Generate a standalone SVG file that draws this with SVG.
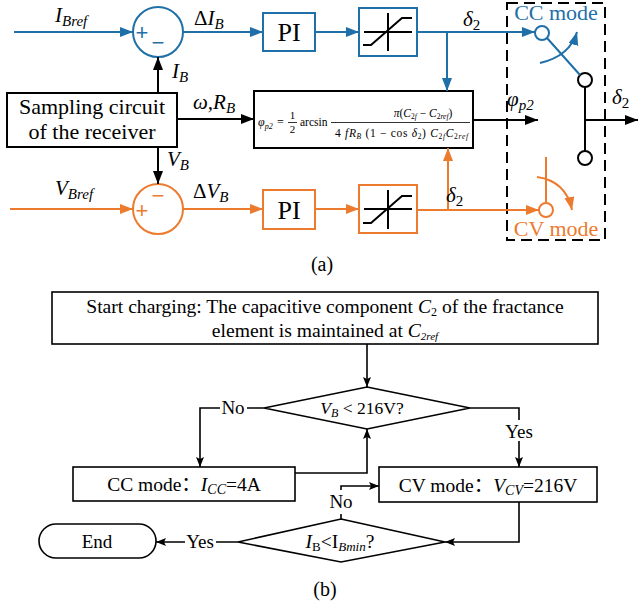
<svg xmlns="http://www.w3.org/2000/svg" width="639" height="607" viewBox="0 0 639 607" font-family="Liberation Serif, Noto Sans CJK SC, serif">
<defs>
<style>
.i{font-style:italic}
.bl{stroke:#1F6FA8;fill:none;stroke-width:2}
.or{stroke:#EC7B2F;fill:none;stroke-width:2}
.bk{stroke:#000;fill:none;stroke-width:2}
.bk2{stroke:#000;fill:none;stroke-width:1.6}
.blt{fill:#1F6FA8}
.ort{fill:#EC7B2F}
</style>
<marker id="ab" markerUnits="userSpaceOnUse" markerWidth="14" markerHeight="12" refX="13" refY="5" orient="auto"><path d="M0,0 L13,5 L0,10 z" fill="#1F6FA8"/></marker>
<marker id="ao" markerUnits="userSpaceOnUse" markerWidth="14" markerHeight="12" refX="13" refY="5" orient="auto"><path d="M0,0 L13,5 L0,10 z" fill="#EC7B2F"/></marker>
<marker id="ak" markerUnits="userSpaceOnUse" markerWidth="14" markerHeight="12" refX="13" refY="5" orient="auto"><path d="M0,0 L13,5 L0,10 z" fill="#000"/></marker>
<marker id="as" markerUnits="userSpaceOnUse" markerWidth="12" markerHeight="10" refX="10" refY="4" orient="auto"><path d="M0,0 L10,4 L0,8 L2,4 z" fill="#000"/></marker>
</defs>
<rect width="639" height="607" fill="#fff"/>

<!-- ===== Part (a) ===== -->
<g id="sum-i">
<circle cx="158" cy="32" r="25" class="bl"/>
<text x="142" y="40" class="blt" font-family="Liberation Sans, sans-serif" font-size="22" text-anchor="middle">+</text>
<text x="158" y="50" class="blt" font-family="Liberation Sans, sans-serif" font-size="22" text-anchor="middle">−</text>
</g>
<g id="pi-i">
<rect x="263" y="13" width="52" height="38" class="bl"/>
<text x="289" y="41" font-family="Liberation Serif, serif" font-size="26" text-anchor="middle">PI</text>
</g>
<g id="sat-i">
<rect x="359" y="8" width="58" height="48" class="bl"/>
<path d="M364,32 H412 M388,13 V51" class="bk" stroke-width="1.6"/>
<path d="M363,45 H371 L402,18 H412" class="bk"/>
</g>
<g id="sum-v">
<circle cx="158" cy="209" r="25" class="or"/>
<text x="142" y="218" class="ort" font-family="Liberation Sans, sans-serif" font-size="22" text-anchor="middle">+</text>
<text x="158" y="203" class="ort" font-family="Liberation Sans, sans-serif" font-size="22" text-anchor="middle">−</text>
</g>
<g id="pi-v">
<rect x="263" y="190" width="52" height="39" class="or"/>
<text x="289" y="219" font-family="Liberation Serif, serif" font-size="26" text-anchor="middle">PI</text>
</g>
<g id="sat-v">
<rect x="359" y="185" width="58" height="48" class="or"/>
<path d="M364,209 H412 M388,190 V229" class="bk" stroke-width="1.6"/>
<path d="M363,223 H371 L402,196 H412" class="bk"/>
</g>
<g id="sampling" font-family="Liberation Serif, serif">
<rect x="7" y="93" width="170" height="54" class="bk"/>
<text x="92" y="114" font-size="22" text-anchor="middle">Sampling circuit</text>
<text x="92" y="139" font-size="22" text-anchor="middle">of the receiver</text>
</g>
<g id="formula" font-family="Liberation Serif, serif">
<rect x="254" y="91" width="219" height="57" class="bk"/>
<text class="i" font-size="12" x="258" y="126">φ<tspan font-size="8" dy="3">p2</tspan></text>
<text font-size="12" x="277" y="126">=</text>
<text font-size="11" x="292.5" y="119" text-anchor="middle">1</text>
<path d="M288,122.5 H297" stroke="#000" stroke-width="0.8"/>
<text font-size="11" x="292.5" y="133" text-anchor="middle">2</text>
<text font-size="11.5" x="300" y="126">arcsin</text>
<path d="M331,122.5 H470" stroke="#000" stroke-width="0.8"/>
<text font-size="11.5" x="423" y="117" text-anchor="middle"><tspan class="i">π</tspan>(<tspan class="i">C</tspan><tspan font-size="7.5" dy="2">2</tspan><tspan class="i" font-size="7.5">f</tspan><tspan dy="-2"> − </tspan><tspan class="i">C</tspan><tspan font-size="7.5" dy="2">2</tspan><tspan class="i" font-size="7.5">ref</tspan><tspan dy="-2">)</tspan></text>
<text font-size="11.5" x="335" y="137" textLength="133" lengthAdjust="spacing">4 <tspan class="i">fR</tspan><tspan class="i" font-size="7.5" dy="2">B</tspan><tspan dy="-2"> (1 − cos </tspan><tspan class="i">δ</tspan><tspan font-size="7.5" dy="2">2</tspan><tspan dy="-2">) </tspan><tspan class="i">C</tspan><tspan font-size="7.5" dy="2">2</tspan><tspan class="i" font-size="7.5">f</tspan><tspan class="i" dy="-2">C</tspan><tspan font-size="7.5" dy="2">2</tspan><tspan class="i" font-size="7.5">ref</tspan></text>
</g>
<g id="mode-switch">
<rect x="507" y="3" width="98" height="237" fill="none" stroke="#000" stroke-width="2" stroke-dasharray="11,6"/>
<text x="556" y="20" class="blt" font-family="Liberation Serif, serif" font-size="22" text-anchor="middle">CC mode</text>
<text x="556" y="236" class="ort" font-family="Liberation Serif, serif" font-size="22" text-anchor="middle">CV mode</text>
<circle cx="542" cy="33" r="7" class="bl"/>
<circle cx="585" cy="80" r="7" class="bk"/>
<circle cx="585" cy="158" r="7" class="bk"/>
<circle cx="546" cy="210" r="7" class="or"/>
<path d="M547,38 L580,75" class="bl"/>
<path d="M540,63 Q570,56 577,32" class="bl" marker-end="url(#ab)"/>
<path d="M546,203 V157" class="or"/>
<path d="M537,177 Q566,181 572,210" class="or" marker-end="url(#ao)"/>
<path d="M585,87 V151" class="bk"/>
</g>
<g id="connectors-a">
<path d="M14,32 H133" class="bl" marker-end="url(#ab)"/>
<path d="M183,32 H263" class="bl" marker-end="url(#ab)"/>
<path d="M315,32 H359" class="bl" marker-end="url(#ab)"/>
<path d="M417,32 H535" class="bl" marker-end="url(#ab)"/>
<path d="M447,32 V91" class="bl" marker-end="url(#ab)"/>
<path d="M10,209 H133" class="or" marker-end="url(#ao)"/>
<path d="M183,209 H263" class="or" marker-end="url(#ao)"/>
<path d="M315,209 H359" class="or" marker-end="url(#ao)"/>
<path d="M417,210 H539" class="or" marker-end="url(#ao)"/>
<path d="M448,210 V148" class="or" marker-end="url(#ao)"/>
<path d="M158,93 V57" class="bk" marker-end="url(#ak)"/>
<path d="M158,147 V184" class="bk" marker-end="url(#ak)"/>
<path d="M177,119 H254" class="bk" marker-end="url(#ak)"/>
<path d="M473,120 H538" class="bk" marker-end="url(#ak)"/>
<path d="M584,120 H638" class="bk" marker-end="url(#ak)"/>
</g>
<g id="labels-a" font-family="Liberation Serif, serif">
<text x="55" y="22" font-size="21" class="i">I<tspan font-size="15" dy="4">Bref</tspan></text>
<text x="194" y="25" font-size="21">Δ<tspan class="i">I</tspan><tspan class="i" font-size="15" dy="4">B</tspan></text>
<text x="463" y="26" font-size="21" class="i">δ<tspan font-size="15" dy="4" font-style="normal">2</tspan></text>
<text x="172" y="78" font-size="21" class="i">I<tspan font-size="15" dy="4">B</tspan></text>
<text x="193" y="109" font-size="21" class="i">ω,R<tspan font-size="15" dy="4">B</tspan></text>
<text x="507" y="106" font-size="21" class="i">φ<tspan font-size="15" dy="4">p2</tspan></text>
<text x="612" y="104" font-size="21" class="i">δ<tspan font-size="15" dy="4" font-style="normal">2</tspan></text>
<text x="167" y="166" font-size="21" class="i">V<tspan font-size="15" dy="4">B</tspan></text>
<text x="55" y="195" font-size="21" class="i">V<tspan font-size="15" dy="4">Bref</tspan></text>
<text x="193" y="198" font-size="21">Δ<tspan class="i">V</tspan><tspan class="i" font-size="15" dy="4">B</tspan></text>
<text x="446" y="202" font-size="21" class="i">δ<tspan font-size="15" dy="4" font-style="normal">2</tspan></text>
<text x="322" y="271" font-size="20" text-anchor="middle">(a)</text>
</g>

<!-- ===== Part (b) ===== -->
<g id="start" font-family="Liberation Serif, serif">
<rect x="52" y="292" width="546" height="52" class="bk2"/>
<text x="325" y="313" font-size="19.6" text-anchor="middle">Start charging: The capacitive component <tspan class="i">C</tspan><tspan font-size="12" dy="3">2</tspan><tspan dy="-3"> of the fractance</tspan></text>
<text x="325" y="337" font-size="19.6" text-anchor="middle">element is maintained at <tspan class="i">C</tspan><tspan class="i" font-size="11" dy="3">2ref</tspan></text>
</g>
<g id="decision-v" font-family="Liberation Serif, serif">
<path d="M367,387 L470,408 L367,429 L264,408 Z" class="bk2"/>
<text x="362" y="414" font-size="17.5" text-anchor="middle"><tspan class="i">V</tspan><tspan class="i" font-size="12" dy="3">B</tspan><tspan dy="-3"> &lt; 216V?</tspan></text>
</g>
<g id="cc-box" font-family="Liberation Serif, Noto Sans CJK SC, serif">
<rect x="73" y="467" width="222" height="34" class="bk2"/>
<text x="184" y="491" font-size="19.5" text-anchor="middle">CC mode：<tspan class="i">I</tspan><tspan class="i" font-size="14" dy="3">CC</tspan><tspan dy="-3">=4A</tspan></text>
</g>
<g id="cv-box" font-family="Liberation Serif, Noto Sans CJK SC, serif">
<rect x="379" y="467" width="218" height="35" class="bk2"/>
<text x="488" y="492" font-size="19.5" text-anchor="middle">CV mode：<tspan class="i">V</tspan><tspan class="i" font-size="14" dy="3">CV</tspan><tspan dy="-3">=216V</tspan></text>
</g>
<g id="decision-i" font-family="Liberation Serif, serif">
<path d="M341,519 L445,542 L341,562 L238,542 Z" class="bk2"/>
<text x="340" y="548" font-size="19.5" text-anchor="middle"><tspan class="i">I</tspan><tspan font-size="13" dy="3">B</tspan><tspan dy="-3">&lt;I</tspan><tspan class="i" font-size="13" dy="3">Bmin</tspan><tspan dy="-3">?</tspan></text>
</g>
<g id="end" font-family="Liberation Serif, serif">
<rect x="39" y="524" width="117" height="34" rx="17" ry="17" class="bk2"/>
<text x="97" y="548" font-size="19" text-anchor="middle">End</text>
</g>
<g id="connectors-b">
<path d="M367,344 V387" class="bk2" marker-end="url(#as)"/>
<path d="M264,408 H247 M220,408 H200 V467" class="bk2" marker-end="url(#as)"/>
<path d="M470,408 H519 V420 M519,441 V467" class="bk2" marker-end="url(#as)"/>
<path d="M295,473 H367 V429" class="bk2" marker-end="url(#as)"/>
<path d="M519,502 V542 H445" class="bk2" marker-end="url(#as)"/>
<path d="M341,519 V514 M341,490 V486 H379" class="bk2" marker-end="url(#as)"/>
<path d="M238,542 H216 M185,542 H156" class="bk2" marker-end="url(#as)"/>
</g>
<g id="labels-b" font-family="Liberation Serif, serif" font-size="19">
<text x="233" y="414" text-anchor="middle">No</text>
<text x="519" y="438" text-anchor="middle">Yes</text>
<text x="341" y="508" text-anchor="middle">No</text>
<text x="200" y="548" text-anchor="middle">Yes</text>
<text x="325" y="596" font-size="20" text-anchor="middle">(b)</text>
</g>
</svg>
